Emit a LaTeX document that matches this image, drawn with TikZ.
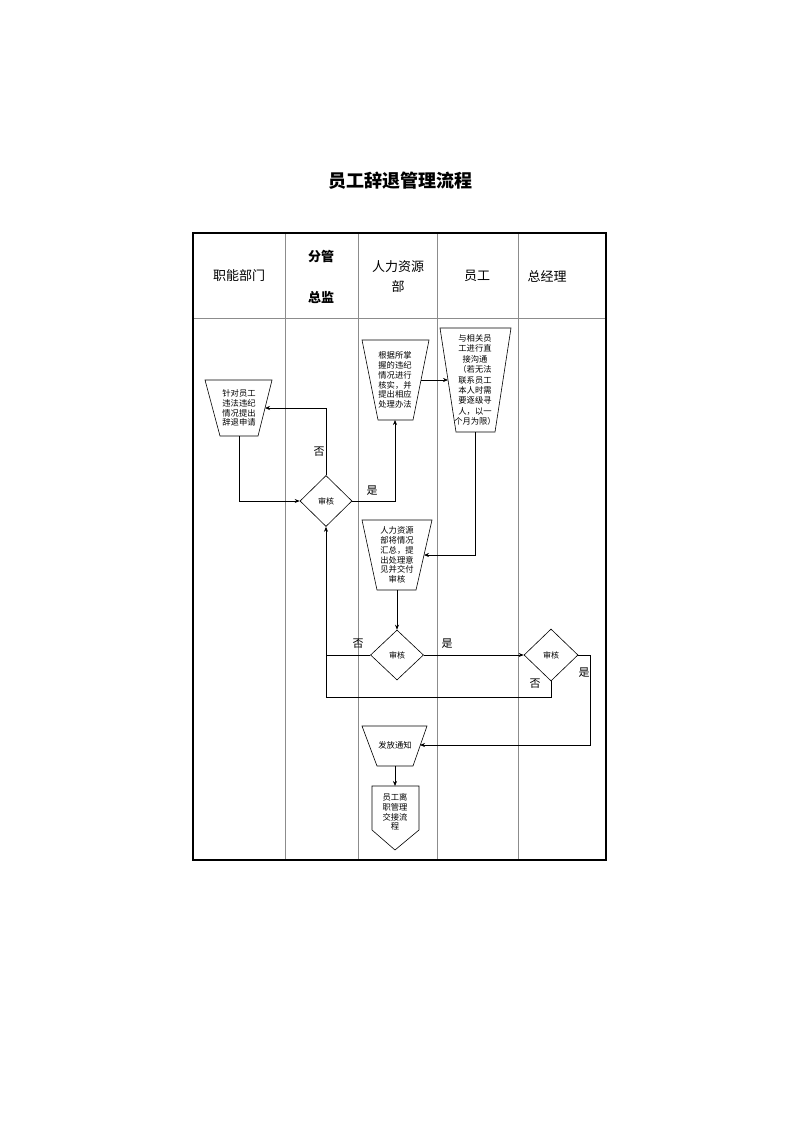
\documentclass[tikz,border=0pt]{standalone}
\usepackage{fontspec}
\newfontfamily\cjk{Noto Sans CJK SC}
\usetikzlibrary{shapes.geometric,arrows.meta}
\begin{document}
\begin{tikzpicture}[x=1pt,y=-1pt,
  every node/.style={font=\cjk},
  shp/.style={draw=black,line width=0.6pt,fill=white},
  boxtxt/.style={align=center,inner sep=0pt,font=\cjk\fontsize{8.3}{9.8}\selectfont},
  dia/.style={draw=black,line width=0.6pt,diamond,inner sep=0pt,font=\cjk\fontsize{8}{9}\selectfont},
  lab/.style={font=\cjk\fontsize{11}{12}\selectfont,inner sep=0pt},
  hdr/.style={font=\cjk\fontsize{13}{15}\selectfont,inner sep=0pt,align=center},
  conn/.style={draw=black,line width=0.6pt},
  arr/.style={conn,-{Stealth[length=5pt,width=4pt]}},
  lane/.style={draw=black!45,line width=1pt}
]
\useasboundingbox (0,0) rectangle (800,1131);
% title
\node[font=\cjk\bfseries\fontsize{18}{20}\selectfont] (title) at (400,181) {员工辞退管理流程};
% table
\draw[lane] (193,318) -- (606,318);
\draw[lane] (285,233) -- (285,860);
\draw[lane] (358,233) -- (358,860);
\draw[lane] (437,233) -- (437,860);
\draw[lane] (518,233) -- (518,860);
\draw[black,line width=1.3pt] (193,233) rectangle (606,860);
% headers
\node[hdr] (h1) at (239,276) {职能部门};
\node[hdr,font=\cjk\bfseries\fontsize{13}{15}\selectfont] (h2a) at (321,257) {分管};
\node[hdr,font=\cjk\bfseries\fontsize{13}{15}\selectfont] (h2b) at (321,297) {总监};
\node[hdr] (h3a) at (398,267) {人力资源};
\node[hdr] (h3b) at (398,287) {部};
\node[hdr] (h4) at (477,276) {员工};
\node[hdr] (h5) at (547,276) {总经理};
% box1
\draw[shp] (205,380) -- (272,380) -- (258,436) -- (220,436) -- cycle;
\node[boxtxt] (b1) at (239,408) {针对员工\\违法违纪\\情况提出\\辞退申请};
\coordinate (b1r) at (265,408);
\coordinate (b1s) at (239,436);
% box2
\draw[shp] (362,340) -- (429,340) -- (413,420) -- (378,420) -- cycle;
\node[boxtxt] (b2) at (395,380) {根据所掌\\握的违纪\\情况进行\\核实，并\\提出相应\\处理办法};
\coordinate (b2r) at (421,380);
\coordinate (b2s) at (395,420);
% box3
\draw[shp] (440,328) -- (511,328) -- (495,432) -- (456,432) -- cycle;
\node[boxtxt,font=\cjk\fontsize{8.3}{10.4}\selectfont] (b3) at (475,380) {与相关员\\工进行直\\接沟通\\（若无法\\联系员工\\本人时需\\要逐级寻\\人，以一\\个月为限）};
\coordinate (b3l) at (448,380);
\coordinate (b3s) at (475,432);
% box4
\draw[shp] (362,520) -- (432,520) -- (416,590) -- (377,590) -- cycle;
\node[boxtxt] (b4) at (397,555) {人力资源\\部将情况\\汇总，提\\出处理意\\见并交付\\审核};
\coordinate (b4r) at (424,555);
\coordinate (b4s) at (397,590);
% box5
\draw[shp] (362,726) -- (427,726) -- (413,766) -- (377,766) -- cycle;
\node[boxtxt] (b5) at (395,745) {发放通知};
\coordinate (b5r) at (420,745);
\coordinate (b5s) at (395,766);
% box6
\draw[shp] (372,786) -- (419,786) -- (419,830) -- (395,850) -- (372,830) -- cycle;
\node[boxtxt] (b6) at (395,812) {员工离\\职管理\\交接流\\程};
\coordinate (b6n) at (395,786);
% diamonds
\node[dia,minimum width=52pt,minimum height=51pt] (d1) at (326,501) {审核};
\node[dia,minimum width=53pt,minimum height=50pt] (d2) at (397,655) {审核};
\node[dia,minimum width=54pt,minimum height=52pt] (d3) at (551,655) {审核};
\coordinate (j) at (326,697);
% connectors
\draw[arr] (d1.north) |- (b1r);
\draw[arr] (b1s) |- (d1.west);
\draw[arr] (d1.east) -| (b2s);
\draw[arr] (b2r) -- (b3l);
\draw[arr] (b3s) |- (b4r);
\draw[arr] (b4s) -- (d2.north);
\draw[arr] (d2.west) -| (d1.south);
\draw[arr] (d2.east) -- (d3.west);
\draw[conn] (d3.south) |- (j) -- (d2.west -| j);
\draw[arr] (d3.east) -- ++(12,0) |- (b5r);
\draw[arr] (b5s) -- (b6n);
% labels
\node[lab] (l1) at (319,452) {否};
\node[lab] (l2) at (372,491) {是};
\node[lab] (l3) at (358,644) {否};
\node[lab] (l4) at (447,644) {是};
\node[lab] (l5) at (535,684) {否};
\node[lab] (l6) at (584,673) {是};
\end{tikzpicture}
\end{document}
